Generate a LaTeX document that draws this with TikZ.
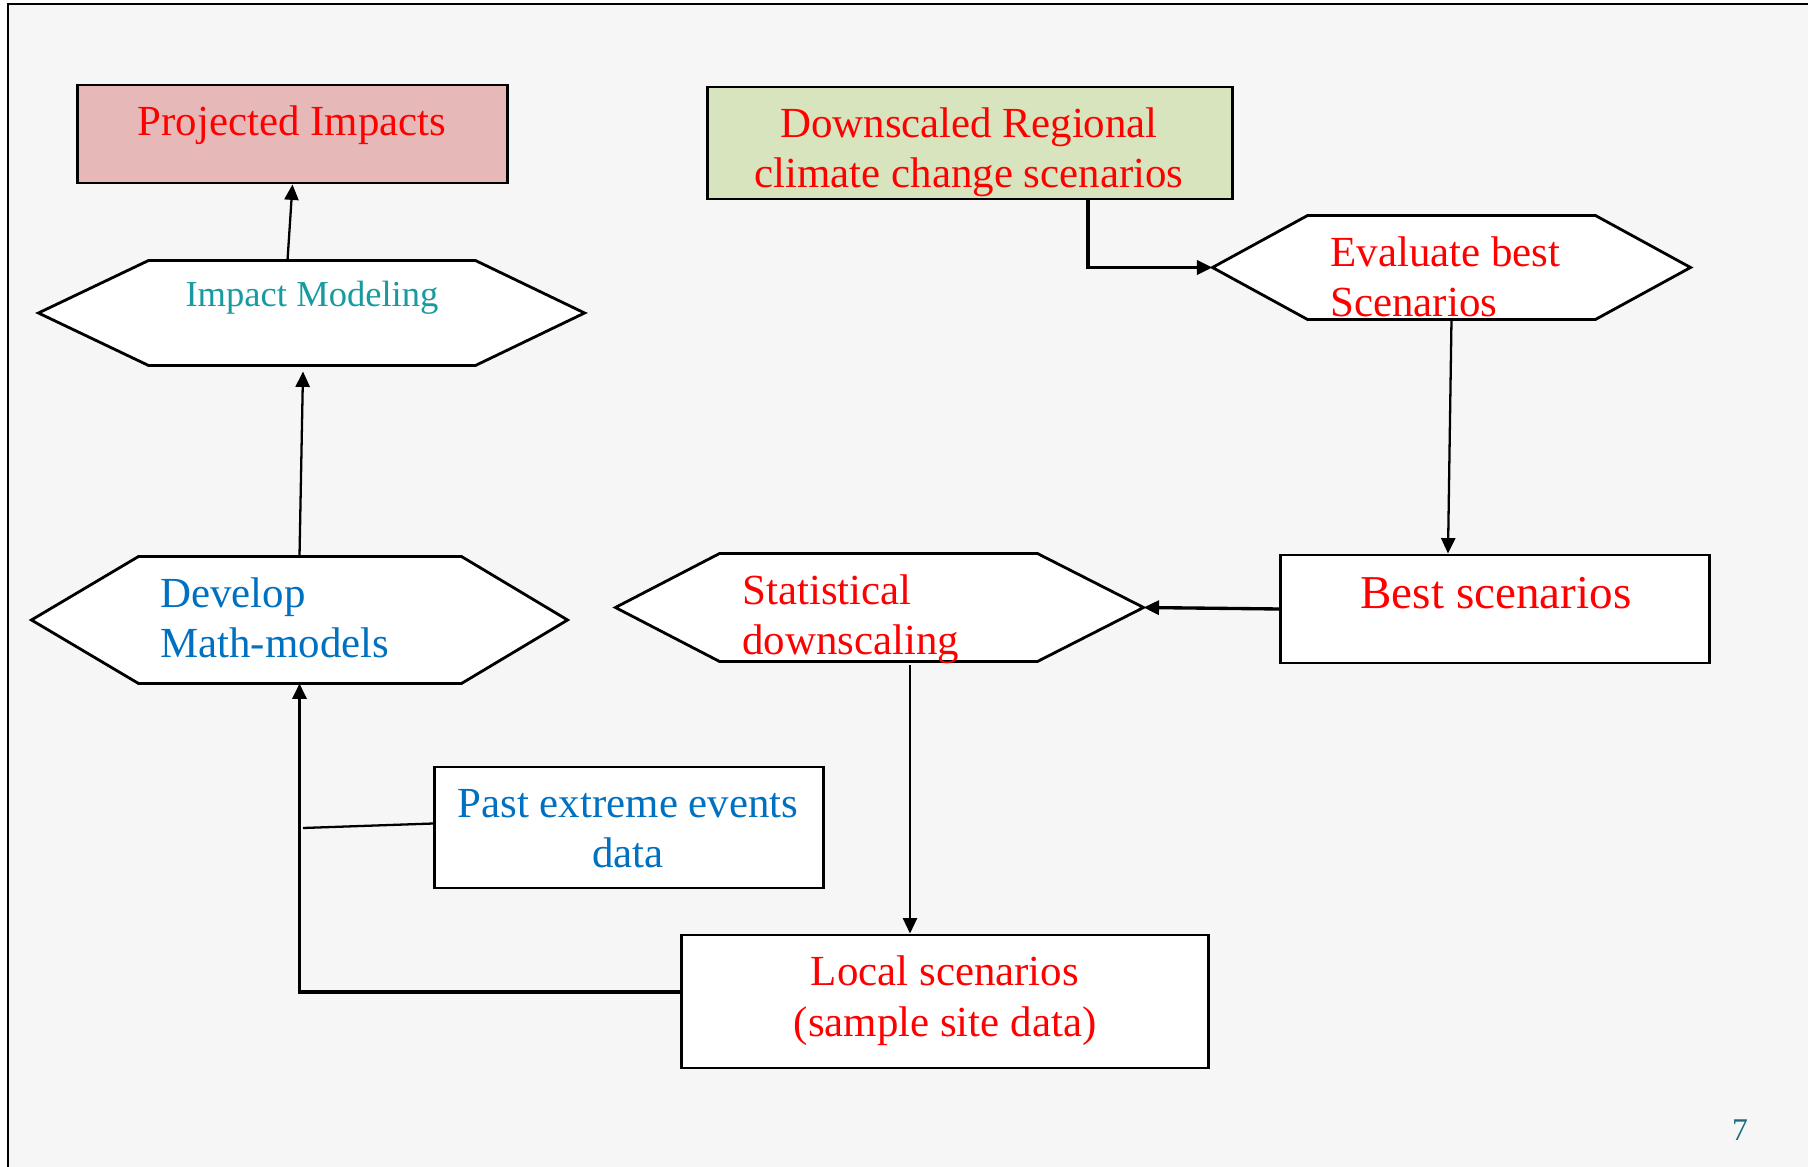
\documentclass[tikz,border=0pt]{standalone}
\usepackage{fontspec}
\setmainfont{Liberation Serif}
\usetikzlibrary{arrows.meta,calc}
\definecolor{txtred}{RGB}{255,0,0}
\definecolor{txtblue}{RGB}{0,112,192}
\definecolor{txtteal}{RGB}{23,155,160}
\definecolor{pgnum}{RGB}{31,107,128}
\definecolor{pinkfill}{RGB}{230,185,184}
\definecolor{greenfill}{RGB}{215,228,189}
\definecolor{slidebg}{RGB}{246,246,246}

\begin{document}
\begin{tikzpicture}[x=0.01cm,y=-0.01cm,line width=0.8pt,>={Triangle[length=4.4pt,width=4pt]},
  box/.style={draw,line width=0.8pt,fill=white,inner sep=0pt},
  hexspan/.style={inner sep=0pt},
  hexline/.style={draw,line width=0.8pt,fill=white},
  txt/.style={font=\fontsize{12.2}{14.5}\selectfont,inner sep=0pt},
  conn/.style={line width=0.65pt},
  connthick/.style={line width=0.95pt}]
% ---- slide background and frame ----
\useasboundingbox (0,0) rectangle (1808,1167);
\fill[slidebg] (8,4) rectangle (1808,1167);
\draw[line width=0.8pt] (8,1167) -- (8,4) -- (1808,4);
% ---- boxes ----
\node[box,fill=pinkfill,minimum width=4.29cm,minimum height=0.98cm] (proj) at (292.5,134) {};
\node[box,fill=greenfill,minimum width=5.24cm,minimum height=1.12cm] (down) at (970,143) {};
\node[box,minimum width=4.28cm,minimum height=1.08cm] (best) at (1495,609) {};
\node[box,minimum width=3.88cm,minimum height=1.21cm] (past) at (629,827.5) {};
\node[box,minimum width=5.26cm,minimum height=1.33cm] (local) at (945,1001.5) {};
% ---- hexagons (span nodes, outline drawn by hand) ----
\node[hexspan,minimum width=5.43cm,minimum height=1.02cm] (imod) at (311.5,313) {};
\node[hexspan,minimum width=5.33cm,minimum height=1.24cm] (dev) at (299.5,620) {};
\node[hexspan,minimum width=4.75cm,minimum height=1.01cm] (evb) at (1451.5,267.5) {};
\node[hexspan,minimum width=5.25cm,minimum height=1.05cm] (stat) at (879.5,607.5) {};
\draw[hexline] (imod.west) -- ($(imod.north west)+(110,0)$) -- ($(imod.north east)+(-109,0)$)
  -- (imod.east) -- ($(imod.south east)+(-109,0)$) -- ($(imod.south west)+(110,0)$) -- cycle;
\draw[hexline] (dev.west) -- ($(dev.north west)+(107,0)$) -- ($(dev.north east)+(-106,0)$)
  -- (dev.east) -- ($(dev.south east)+(-106,0)$) -- ($(dev.south west)+(107,0)$) -- cycle;
\draw[hexline] (evb.west) -- ($(evb.north west)+(95,0)$) -- ($(evb.north east)+(-95,0)$)
  -- (evb.east) -- ($(evb.south east)+(-95,0)$) -- ($(evb.south west)+(95,0)$) -- cycle;
\draw[hexline] (stat.west) -- ($(stat.north west)+(104,0)$) -- ($(stat.north east)+(-106,0)$)
  -- (stat.east) -- ($(stat.south east)+(-106,0)$) -- ($(stat.south west)+(104,0)$) -- cycle;
% ---- texts (base = last line) ----
\node[txt,anchor=base,text=txtred] (projtxt) at (292,136) {Projected Impacts};
\node[txt,anchor=base,text=txtteal,font=\fontsize{10.4}{12.5}\selectfont] (imodtxt) at (312,307) {Impact Modeling};
\node[txt,anchor=base,align=center,text=txtred] (downtxt) at (969,188) {Downscaled Regional\\climate change scenarios};
\node[txt,anchor=base west,align=left,text=txtred] (evbtxt) at (1329,317) {Evaluate best\\Scenarios};
\node[txt,anchor=base,text=txtred,font=\fontsize{13.4}{16}\selectfont] (besttxt) at (1496,609) {Best scenarios};
\node[txt,anchor=base west,align=left,text=txtred] (stattxt) at (741,655) {Statistical\\downscaling};
\node[txt,anchor=base west,align=left,text=txtblue] (devtxt) at (159,658) {Develop\\Math-models};
\node[txt,anchor=base,align=center,text=txtblue] (pasttxt) at (628,868) {Past extreme events\\data};
\node[txt,anchor=base,align=center,text=txtred] (localtxt) at (945,1036) {Local scenarios\\(sample site data)};
\node[txt,anchor=base,text=pgnum,font=\fontsize{9}{11}\selectfont] (pagenum) at (1740,1140) {7};
% ---- connectors ----
\draw[conn,->] ($(imod.north)+(-24,0)$) -- (proj.south);
\draw[conn,->] (dev.north) -- ($(imod.south)+(-8.5,6)$);
\coordinate (pastend) at (303,828);
\draw[conn] ($(past.west)+(0,-4)$) -- (pastend);
\draw[connthick,->] ($(local.west)+(0,-9.5)$) -| (dev.south);
\draw[conn,->] ($(stat.south)+(30.5,4)$) -- ($(local.north)+(-35,0)$);
\draw[connthick,->] (best.west) -- (stat.east);
\draw[conn,->] (evb.south) -- ($(best.north)+(-47,0)$);
\draw[connthick,->] ($(down.south)+(118,0)$) |- (evb.west);
\end{tikzpicture}
\end{document}
